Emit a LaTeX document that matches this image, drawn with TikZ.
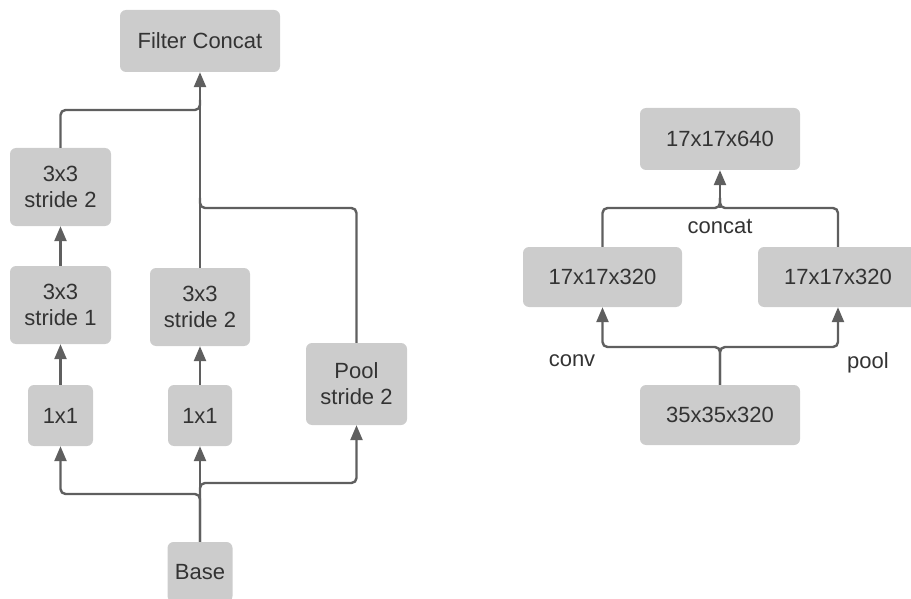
\documentclass[tikz,border=0pt]{standalone}
\usepackage{fontspec}
\setmainfont{Liberation Sans}
\usetikzlibrary{arrows.meta}
\definecolor{boxgray}{HTML}{CCCCCC}
\definecolor{linegray}{HTML}{5F5F5F}
\definecolor{textgray}{HTML}{333333}
\tikzset{
  blk/.style={fill=boxgray, rounded corners=6pt, inner sep=0pt, align=center,
    text=textgray, font=\fontsize{22}{26}\selectfont},
  conn/.style={draw=linegray, line width=2.4pt, rounded corners=5pt,
    -{Triangle[length=15pt,width=12pt]}},
  plain/.style={draw=linegray, line width=2.4pt, rounded corners=5pt},
  lbl/.style={text=textgray, font=\fontsize{22}{26}\selectfont, inner sep=0pt}
}
\begin{document}
\begin{tikzpicture}[x=1pt,y=-1pt]
\useasboundingbox (0,0) rectangle (911,599);
\clip (0,0) rectangle (911,599);

% ---- left block: Inception-style reduction module ----
\node[blk, minimum width=160pt, minimum height=62pt] (fc)   at (200,41)  {Filter Concat};
\node[blk, minimum width=101pt, minimum height=78pt] (s2a)  at (60.5,187) {3x3\\stride 2};
\node[blk, minimum width=101pt, minimum height=78pt] (s1)   at (60.5,305) {3x3\\stride 1};
\node[blk, minimum width=100pt, minimum height=78pt] (s2b)  at (200,307)  {3x3\\stride 2};
\node[blk, minimum width=101pt, minimum height=82pt] (pool) at (356.5,384) {Pool\\stride 2};
\node[blk, minimum width=65pt,  minimum height=61pt] (oa)   at (60.5,415.5) {1x1};
\node[blk, minimum width=64pt,  minimum height=61pt] (ob)   at (200,415.5) {1x1};
\node[blk, minimum width=65pt,  minimum height=60pt] (base) at (200,572) {Base};

\coordinate (ta) at (200,110);
\coordinate (tb) at (200,208);
\coordinate (ba) at (200,494);
\coordinate (bb) at (200,483);

% outputs merging into the concat
\draw[plain] (s2a.north) |- (ta) -- (200,100);
\draw[plain] (pool.north) |- (tb) -- (200,198);
\draw[conn] (s2b.north) -- (fc.south);
% inner arrows
\draw[conn] (s1.north) -- (s2a.south);
\draw[conn] (oa.north) -- (s1.south);
\draw[conn] (ob.north) -- (s2b.south);
% inputs from the base
\draw[conn] (base.north) -- (ba) -| (oa.south);
\draw[conn] (base.north) -- (ob.south);
\draw[conn] (base.north) -- (bb) -| (pool.south);

% ---- right block: grid size reduction ----
\node[blk, minimum width=160pt, minimum height=62pt] (c640) at (720,139) {17x17x640};
\node[blk, minimum width=159pt, minimum height=60pt] (lc)   at (602.5,277) {17x17x320};
\node[blk, minimum width=160pt, minimum height=60pt] (rc)   at (838,277) {17x17x320};
\node[blk, minimum width=160pt, minimum height=60pt] (b35)  at (720,415) {35x35x320};

\coordinate (jt) at (720,208);
\coordinate (jb) at (720,347);

\draw[plain] (lc.north) |- (jt) -- (720,198);
\draw[plain] (rc.north) |- (jt) -- (720,198);
\draw[conn] (jt) -- (c640.south);
\draw[conn] (b35.north) -- (jb) -| (lc.south);
\draw[conn] (b35.north) -- (jb) -| (rc.south);

\node[lbl] (cc)  at (720,226) {concat};
\node[lbl] (cv)  at (572,361) {conv};
\node[lbl] (pl)  at (868,363) {pool};
\end{tikzpicture}
\end{document}
